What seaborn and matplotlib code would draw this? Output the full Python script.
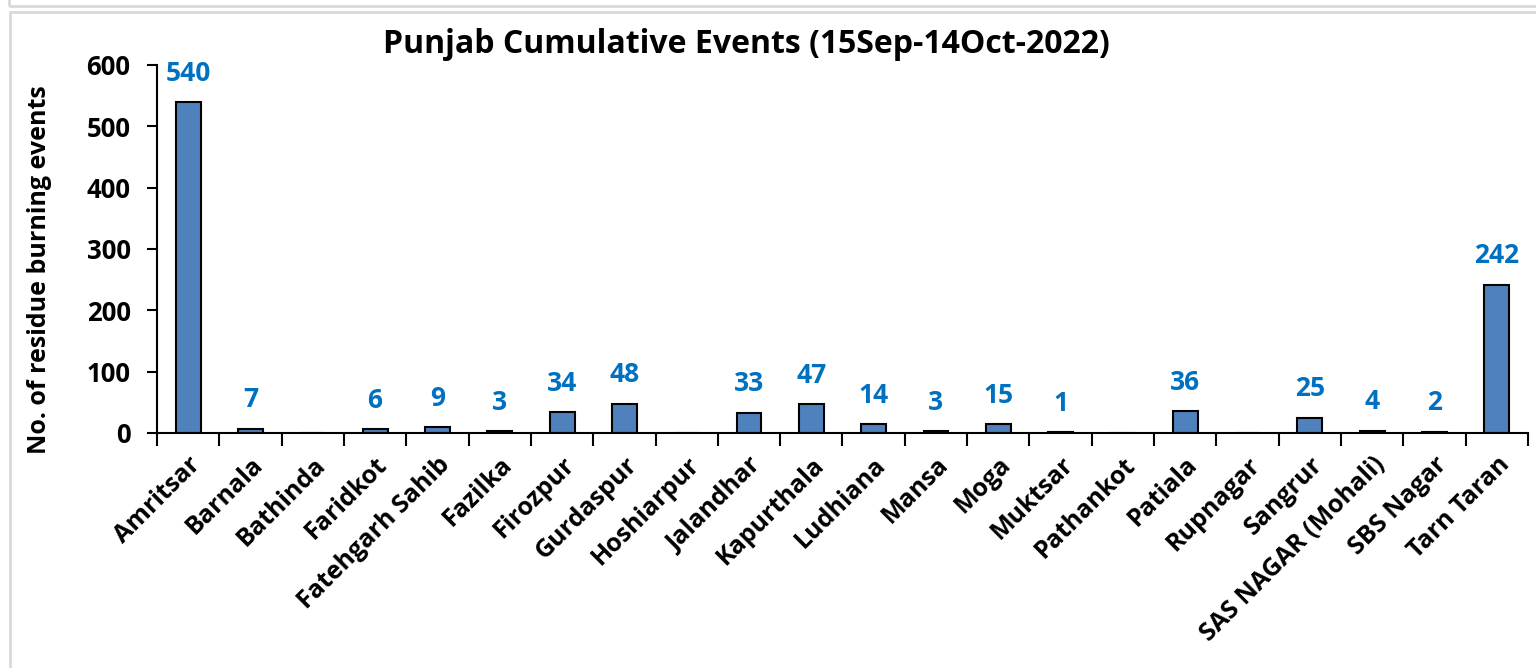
import matplotlib
matplotlib.use("Agg")
import matplotlib.pyplot as plt
from matplotlib.patches import Rectangle
import numpy as np
import pandas as pd
import seaborn as sns

# ──────────────────────────────────────────────────────────────
# Data
# ──────────────────────────────────────────────────────────────
districts = [
    "Amritsar", "Barnala", "Bathinda", "Faridkot", "Fatehgarh Sahib",
    "Fazilka", "Firozpur", "Gurdaspur", "Hoshiarpur", "Jalandhar",
    "Kapurthala", "Ludhiana", "Mansa", "Moga", "Muktsar", "Pathankot",
    "Patiala", "Rupnagar", "Sangrur", "SAS NAGAR (Mohali)", "SBS Nagar",
    "Tarn Taran",
]
events = [540, 7, 0, 6, 9, 3, 34, 48, 0, 33, 47, 14, 3, 15, 1, 0,
          36, 0, 25, 4, 2, 242]
y_ticks = [0, 100, 200, 300, 400, 500, 600]

title = "Punjab Cumulative Events (15Sep-14Oct-2022)"
y_label = "No. of residue burning events"

BAR_COLOR = "#4F81BD"
LABEL_COLOR = "#0070C0"

df = pd.DataFrame({"district": districts, "events": events})

sns.set_theme(style="white")
plt.rcParams["font.family"] = ["Open Sans", "DejaVu Sans"]
plt.rcParams["font.weight"] = "bold"
plt.rcParams["text.color"] = "black"

fig = plt.figure(figsize=(15.36, 6.68), dpi=100)
ax = fig.add_axes([0.1022, 0.3518, 0.8926, 0.5509])

sns.barplot(data=df, x="district", y="events", ax=ax, color=BAR_COLOR,
            saturation=1, width=0.4, edgecolor="black", linewidth=1.5)

# value labels (skip empty districts)
for i, v in enumerate(events):
    if v > 0:
        ax.annotate(str(v), (i, v), xytext=(0, 11), textcoords="offset points",
                    ha="center", va="bottom", color=LABEL_COLOR,
                    fontsize=19, fontweight="bold")

n = len(districts)
ax.set_xlim(-0.5, n - 0.5)
ax.set_ylim(0, 600)
ax.set_yticks(y_ticks)
ax.set_yticklabels([str(t) for t in y_ticks], fontsize=18.5, fontweight="bold")

ax.set_xticks(range(n))
ax.set_xticklabels(districts, rotation=45, ha="right", rotation_mode="anchor",
                   fontsize=18, fontweight="bold")
ax.set_xticks(np.arange(-0.5, n), minor=True)
ax.tick_params(axis="x", which="major", length=0, pad=14, labelcolor="black")
ax.tick_params(axis="x", which="minor", length=9, width=1.5, color="black",
               direction="out", bottom=True)
ax.tick_params(axis="y", length=7, width=1.5, color="black", direction="out",
               left=True, pad=12, labelcolor="black")

for side in ["top", "right"]:
    ax.spines[side].set_visible(False)
for side in ["left", "bottom"]:
    ax.spines[side].set_color("black")
    ax.spines[side].set_linewidth(1.5)
ax.set_xlabel("")
ax.set_ylabel("")

fig.text(0.486, 0.933, title, ha="center", va="center",
         fontsize=23, fontweight="bold", color="black")
fig.text(0.026, 0.596, y_label, ha="center", va="center", rotation=90,
         fontsize=18, fontweight="bold", color="black")

# chart frames
fig.patches.append(Rectangle((10 / 1536, -0.01), 1.1, 1 - 12 / 668 + 0.01,
                             transform=fig.transFigure, fill=False,
                             edgecolor="#D9D9D9", linewidth=2))
fig.patches.append(Rectangle((9 / 1536, 1 - 6 / 668), 1.1, 0.1,
                             transform=fig.transFigure, fill=False,
                             edgecolor="#D9D9D9", linewidth=2))

fig.savefig("out.png", dpi=100)
